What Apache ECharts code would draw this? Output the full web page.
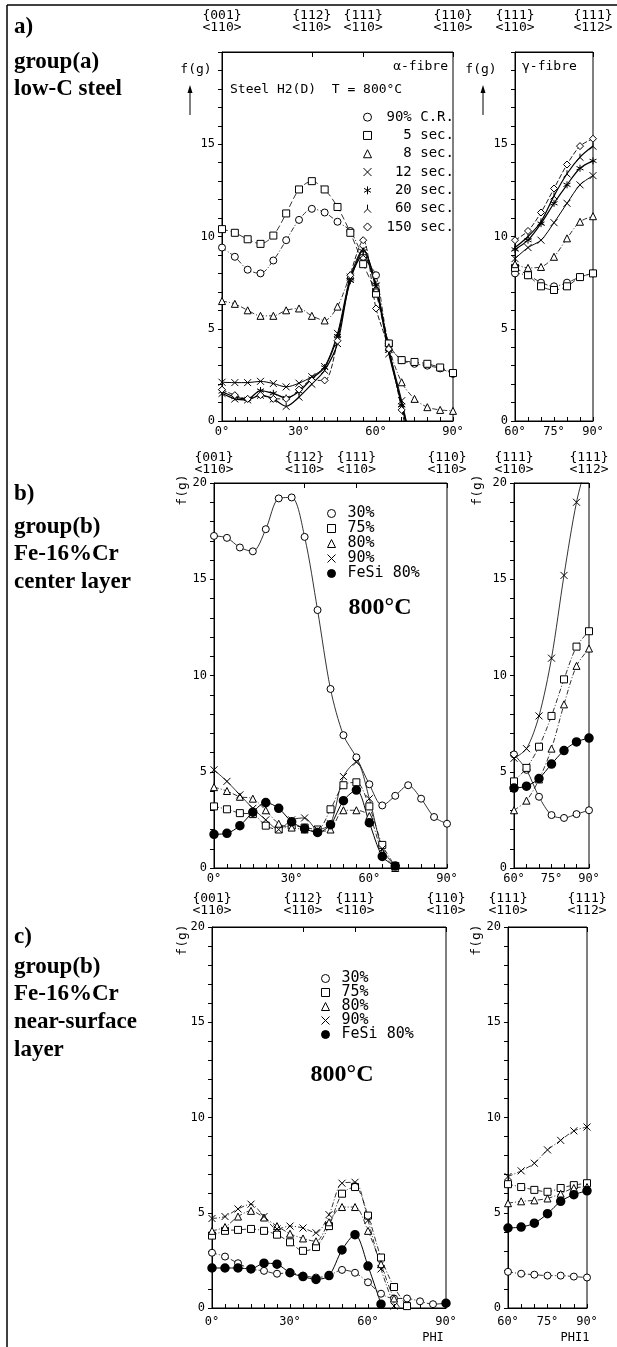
<!DOCTYPE html>
<html><head><meta charset="utf-8">
<script src="https://cdn.jsdelivr.net/npm/echarts@6/dist/echarts.min.js"></script>
<style>html,body{margin:0;padding:0;background:#fff}#c{width:617px;height:1347px}</style>
</head><body><div id="c"></div>
<script>
// ---------- data ----------
const phiA = [0,5,10,15,20,25,30,35,40,45,50,55,60,65,70,75,80,85,90];
const phi2 = [60,65,70,75,80,85,90];

// panel a (low-C steel), alpha-fibre
const a_cr90 = [9.4,8.9,8.2,8.0,8.7,9.8,10.9,11.5,11.3,10.8,10.3,8.9,7.9,4.2,3.3,3.1,3.0,2.85,2.55];
const a_s5   = [10.4,10.2,9.85,9.6,10.05,11.25,12.55,13.0,12.55,11.6,10.2,8.5,6.9,4.2,3.3,3.2,3.1,2.9,2.6];
const a_s8   = [6.5,6.35,6.0,5.7,5.7,6.0,6.1,5.7,5.45,6.2,7.9,9.2,7.2,4.0,2.1,1.2,0.75,0.6,0.55];
const a_s12  = [2.1,2.08,2.08,2.15,2.03,1.85,2.05,2.4,2.95,4.75,7.8,9.3,7.3,3.9,1.1,-2];
const a_s20  = [1.6,1.3,1.2,1.65,1.5,1.25,1.6,2.3,2.9,4.6,7.6,9.2,7.4,3.8,0.85,-2.2];
const a_s60  = [1.5,1.2,1.15,1.4,1.2,0.8,1.3,2.0,2.75,4.2,7.7,9.0,7.2,3.65,0.95,-2];
const a_s150 = [1.7,1.4,1.2,1.4,1.2,1.2,1.7,2.2,2.2,4.35,7.9,9.8,6.1,3.9,0.6,-2.5];
// panel a, gamma-fibre
const ar_cr90 = [8.0,7.9,7.5,7.3,7.5,7.8,8.0];
const ar_s5   = [8.3,7.9,7.3,7.1,7.3,7.8,8.0];
const ar_s8   = [8.5,8.3,8.35,8.9,9.9,10.8,11.1];
const ar_s12  = [8.8,9.4,9.8,10.75,11.8,12.8,13.3];
const ar_s20  = [9.3,9.8,10.7,11.8,12.8,13.7,14.1];
const ar_s60  = [9.4,10.0,10.8,12.2,13.4,14.3,14.9];
const ar_s150 = [9.8,10.3,11.3,12.6,13.9,14.9,15.3];

// panel b (Fe-16%Cr center layer), alpha-fibre
const b_30   = [17.25,17.15,16.65,16.45,17.6,19.2,19.25,17.2,13.4,9.3,6.9,5.75,4.35,3.25,3.75,4.3,3.6,2.65,2.3];
const b_75   = [3.2,3.05,2.85,2.8,2.2,2.0,2.2,2.1,2.0,3.05,4.3,4.45,3.2,1.2,0.1];
const b_80   = [4.2,4.0,3.7,3.6,3.0,2.3,2.1,2.0,1.9,2.0,3.0,3.0,2.7,0.8,0.0];
const b_90   = [5.1,4.5,3.8,3.1,2.5,2.0,2.5,2.6,2.0,2.3,4.75,5.5,3.6,1.0,0.1];
const b_fesi = [1.75,1.8,2.2,2.9,3.4,3.1,2.4,2.05,1.85,2.25,3.5,4.05,2.35,0.6,0.1];
// panel b, gamma-fibre
const br_30   = [5.9,5.1,3.7,2.75,2.6,2.8,3.0];
const br_75   = [4.5,5.2,6.3,7.9,9.8,11.5,12.3];
const br_80   = [3.0,3.5,4.6,6.2,8.5,10.5,11.4];
const br_90   = [5.7,6.2,7.9,10.9,15.2,19.0,21.5];
const br_fesi = [4.15,4.25,4.65,5.4,6.1,6.55,6.75];

// panel c (Fe-16%Cr near-surface layer), alpha-fibre
const c_30   = [2.9,2.7,2.35,2.05,1.95,1.8,1.85,1.7,1.6,1.7,2.0,1.85,1.35,0.75,0.5,0.5,0.35,0.2,0.25];
const c_75   = [3.8,4.05,4.1,4.15,4.05,3.85,3.45,3.0,3.2,4.3,6.0,6.35,4.85,2.65,1.1,0.1];
const c_80   = [4.05,4.25,4.8,5.1,4.75,4.3,3.9,3.65,3.5,4.5,5.3,5.3,4.05,2.3,0.5,-0.5];
const c_90   = [4.7,4.8,5.2,5.45,4.8,4.15,4.3,4.2,3.95,4.9,6.55,6.6,4.6,2.05,0.1];
const c_fesi = [2.1,2.1,2.1,2.05,2.35,2.3,1.85,1.65,1.5,1.7,3.05,3.85,2.2,0.2,null,null,null,null,0.25];
// panel c, gamma-fibre
const cr_30   = [1.9,1.8,1.75,1.7,1.7,1.65,1.6];
const cr_75   = [6.5,6.35,6.2,6.1,6.3,6.45,6.55];
const cr_80   = [5.5,5.6,5.65,5.75,6.0,6.3,6.35];
const cr_90   = [6.9,7.2,7.6,8.3,8.8,9.3,9.5];
const cr_fesi = [4.2,4.25,4.45,4.95,5.6,5.95,6.15];

// tick / axis labels
const topLabelsAlpha = {0:'{001}\n<110>', 35:'{112}\n<110>', 55:'{111}\n<110>', 90:'{110}\n<110>'};
const topLabelsGamma = {60:'{111}\n<110>', 90:'{111}\n<112>'};

// ---------- layout ----------
const MONO = '"DejaVu Sans Mono", monospace';
const SERIF = '"Liberation Serif", "Times New Roman", serif';
const grids = [
  {left:222, top:52,  width:231, height:369},
  {left:515, top:52,  width:78,  height:369},
  {left:214, top:483, width:233, height:385},
  {left:514, top:483, width:75,  height:385},
  {left:212, top:927, width:234, height:381},
  {left:508, top:927, width:79,  height:381}
].map(g => Object.assign(g, {show:true, borderColor:'#000', borderWidth:1}));

const SHAPES = {
  circle:'circle', square:'rect', triangle:'triangle', diamond:'diamond',
  cross:'path://M0,0L10,10M10,0L0,10',
  star:'path://M5,0L5,10M0.67,2.5L9.33,7.5M0.67,7.5L9.33,2.5',
  lambda:'path://M5,0L5,5.5M5,5.5L0.5,10M5,5.5L9.5,10',
  dot:'circle'
};

const xAxis = [], yAxis = [];
const topMargins = [18,18,7,7,10,10];
const botMargins = [5,5,5,5,8,8];
grids.forEach((g,i) => {
  const gamma = i % 2 === 1;
  const min = gamma ? 60 : 0;
  xAxis.push({gridIndex:i, type:'value', position:'bottom', min, max:90, interval:5,
    axisLine:{lineStyle:{color:'#000', width:1}},
    axisTick:{inside:true, length:4, lineStyle:{color:'#000'}},
    axisLabel:{margin:botMargins[i], color:'#000', fontFamily:MONO, fontSize:12,
      formatter: v => (v % (gamma ? 15 : 30) === 0 ? v + '°' : '')},
    splitLine:{show:false}});
  const tl = gamma ? topLabelsGamma : topLabelsAlpha;
  const tv = Object.keys(tl).map(Number);
  xAxis.push({gridIndex:i, type:'value', position:'top', min, max:90,
    axisLine:{lineStyle:{color:'#000', width:1}},
    axisTick:{inside:true, length:5, customValues:tv, lineStyle:{color:'#000'}},
    axisLabel:{customValues:tv, margin:topMargins[i], color:'#000', fontFamily:MONO, fontSize:13, lineHeight:12.5,
      formatter: v => tl[Math.round(v)] || ''},
    splitLine:{show:false}});
  yAxis.push({gridIndex:i, type:'value', min:0, max:20, interval:1,
    axisLine:{show:true, lineStyle:{color:'#000', width:1}},
    axisTick:{show:true, inside:false, length:4, lineStyle:{color:'#000'}},
    axisLabel:{margin:7, color:'#000', fontFamily:MONO, fontSize:12,
      formatter: v => (v % 5 === 0 && (i >= 2 || v < 20)) ? String(v) : ''},
    splitLine:{show:false}});
});

function pairs(xs, ys){ return ys.map((y,k) => [xs[k], (y === null ? '-' : y)]); }
const series = [];
function addSeries(name, grid, xs, ys, shape, ls, size){
  const filled = shape === 'dot';
  series.push({
    type:'line', name, xAxisIndex:grid*2, yAxisIndex:grid,
    data: pairs(xs, ys), smooth:0.3, clip:true, connectNulls:false,
    symbol: SHAPES[shape], symbolSize: size || 7, showAllSymbol:true,
    itemStyle:{color: filled ? '#000' : '#fff', borderColor:'#000', borderWidth: filled ? 1.5 : 1},
    lineStyle:{color:'#000', width: ls.w, type: ls.dash || 'solid'},
    emphasis:{disabled:true}, animation:false, z: 3
  });
}
const DD = [5,2,1,2];
const panelA = [
  ['90% C.R.', a_cr90, ar_cr90, 'circle',  {w:0.8, dash:DD}],
  ['5 sec.',   a_s5,   ar_s5,   'square',  {w:0.8, dash:[6,3]}],
  ['8 sec.',   a_s8,   ar_s8,   'triangle',{w:0.8, dash:DD}],
  ['12 sec.',  a_s12,  ar_s12,  'cross',   {w:1}],
  ['20 sec.',  a_s20,  ar_s20,  'star',    {w:1.2}],
  ['60 sec.',  a_s60,  ar_s60,  'lambda',  {w:1.2}],
  ['150 sec.', a_s150, ar_s150, 'diamond', {w:0.9, dash:[5,2]}]
];
panelA.forEach(p => { addSeries(p[0],0,phiA,p[1],p[3],p[4]); addSeries(p[0],1,phi2,p[2],p[3],p[4]); });
const panelB = [
  ['30%',      b_30,   br_30,   'circle',  {w:0.8}],
  ['75%',      b_75,   br_75,   'square',  {w:0.8, dash:DD}],
  ['80%',      b_80,   br_80,   'triangle',{w:0.8, dash:DD}],
  ['90%',      b_90,   br_90,   'cross',   {w:0.8}],
  ['FeSi 80%', b_fesi, br_fesi, 'dot',     {w:1}]
];
panelB.forEach(p => { addSeries(p[0],2,phiA,p[1],p[3],p[4],p[3]==='dot'?8:7); addSeries(p[0],3,phi2,p[2],p[3],p[4],p[3]==='dot'?8:7); });
const panelC = [
  ['30%',      c_30,   cr_30,   'circle',  {w:0.8, dash:DD}],
  ['75%',      c_75,   cr_75,   'square',  {w:0.8, dash:DD}],
  ['80%',      c_80,   cr_80,   'triangle',{w:0.8, dash:DD}],
  ['90%',      c_90,   cr_90,   'cross',   {w:0.8, dash:DD}],
  ['FeSi 80%', c_fesi, cr_fesi, 'dot',     {w:1}]
];
panelC.forEach(p => { addSeries(p[0],4,phiA,p[1],p[3],p[4],p[3]==='dot'?8:7); addSeries(p[0],5,phi2,p[2],p[3],p[4],p[3]==='dot'?8:7); });

function legendData(list){ return list.map(p => ({name:p[0], icon:SHAPES[p[3]]})); }
const legend = [
  {left:358, top:105, orient:'vertical', itemWidth:8, itemHeight:8, itemGap:4, selectedMode:false,
   data:legendData(panelA), itemStyle:{borderWidth:1}, formatter: n => n.padStart(8,' '),
   textStyle:{fontFamily:MONO, fontSize:14, lineHeight:14.3, color:'#000', padding:[0,0,0,10]}},
  {left:322, top:501, orient:'vertical', itemWidth:8, itemHeight:8, itemGap:0, selectedMode:false,
   data:legendData(panelB), itemStyle:{borderWidth:1},
   textStyle:{fontFamily:MONO, fontSize:15, lineHeight:13, color:'#000', padding:[0,0,0,7]}},
  {left:316, top:966, orient:'vertical', itemWidth:8, itemHeight:8, itemGap:-1, selectedMode:false,
   data:legendData(panelC), itemStyle:{borderWidth:1},
   textStyle:{fontFamily:MONO, fontSize:15, lineHeight:12, color:'#000', padding:[0,0,0,7]}}
];

// ---------- annotations ----------
const G = [];
function txt(text, x, y, font, align, extra){
  G.push(Object.assign({type:'text', x, y, style:{text, font, fill:'#000', textAlign:align||'left', verticalAlign:'middle'}, z:10}, extra||{}));
}
const BOLD = 'bold 23px ' + SERIF;
// frame
G.push({type:'line', shape:{x1:7, y1:5, x2:7, y2:1347}, style:{stroke:'#000', lineWidth:1.5}});
G.push({type:'line', shape:{x1:7, y1:5, x2:617, y2:5}, style:{stroke:'#000', lineWidth:1.5}});
// panel labels
txt('a)', 14, 27, BOLD); txt('group(a)', 14, 62, BOLD); txt('low-C steel', 14, 89, BOLD);
txt('b)', 14, 494, BOLD); txt('group(b)', 14, 527, BOLD); txt('Fe-16%Cr', 14, 554, BOLD); txt('center layer', 14, 582, BOLD);
txt('c)', 14, 937, BOLD); txt('group(b)', 14, 967, BOLD); txt('Fe-16%Cr', 14, 994, BOLD); txt('near-surface', 14, 1022, BOLD); txt('layer', 14, 1050, BOLD);
// f(g) labels
txt('f(g)', 196, 70, '13px ' + MONO, 'center'); txt('f(g)', 481, 70, '13px ' + MONO, 'center');
[190, 483].forEach(x => {
  G.push({type:'line', shape:{x1:x, y1:115, x2:x, y2:90}, style:{stroke:'#000', lineWidth:1}});
  G.push({type:'polygon', shape:{points:[[x-2.5,93],[x,85],[x+2.5,93]]}, style:{fill:'#000'}});
});
txt('f(g)', 183, 490, '13px ' + MONO, 'center', {rotation:Math.PI/2});
txt('f(g)', 478, 490, '13px ' + MONO, 'center', {rotation:Math.PI/2});
txt('f(g)', 183, 940, '13px ' + MONO, 'center', {rotation:Math.PI/2});
txt('f(g)', 477, 940, '13px ' + MONO, 'center', {rotation:Math.PI/2});
// in-plot texts
txt('α-fibre', 448, 67, '13px ' + MONO, 'right');
txt('Steel H2(D)  T = 800°C', 230, 90, '13px ' + MONO, 'left');
txt('γ-fibre', 522, 67, '13px ' + MONO, 'left');
txt('800°C', 380, 608, 'bold 24px ' + SERIF, 'center');
txt('800°C', 342, 1075, 'bold 24px ' + SERIF, 'center');
txt('PHI', 433, 1338, '12px ' + MONO, 'center');
txt('PHI1', 575, 1338, '12px ' + MONO, 'center');

const chart = echarts.init(document.getElementById('c'), null, {renderer:'canvas'});
chart.setOption({
  animation:false, backgroundColor:'#fff',
  grid: grids, xAxis, yAxis, series, legend, graphic: G
});
</script></body></html>
